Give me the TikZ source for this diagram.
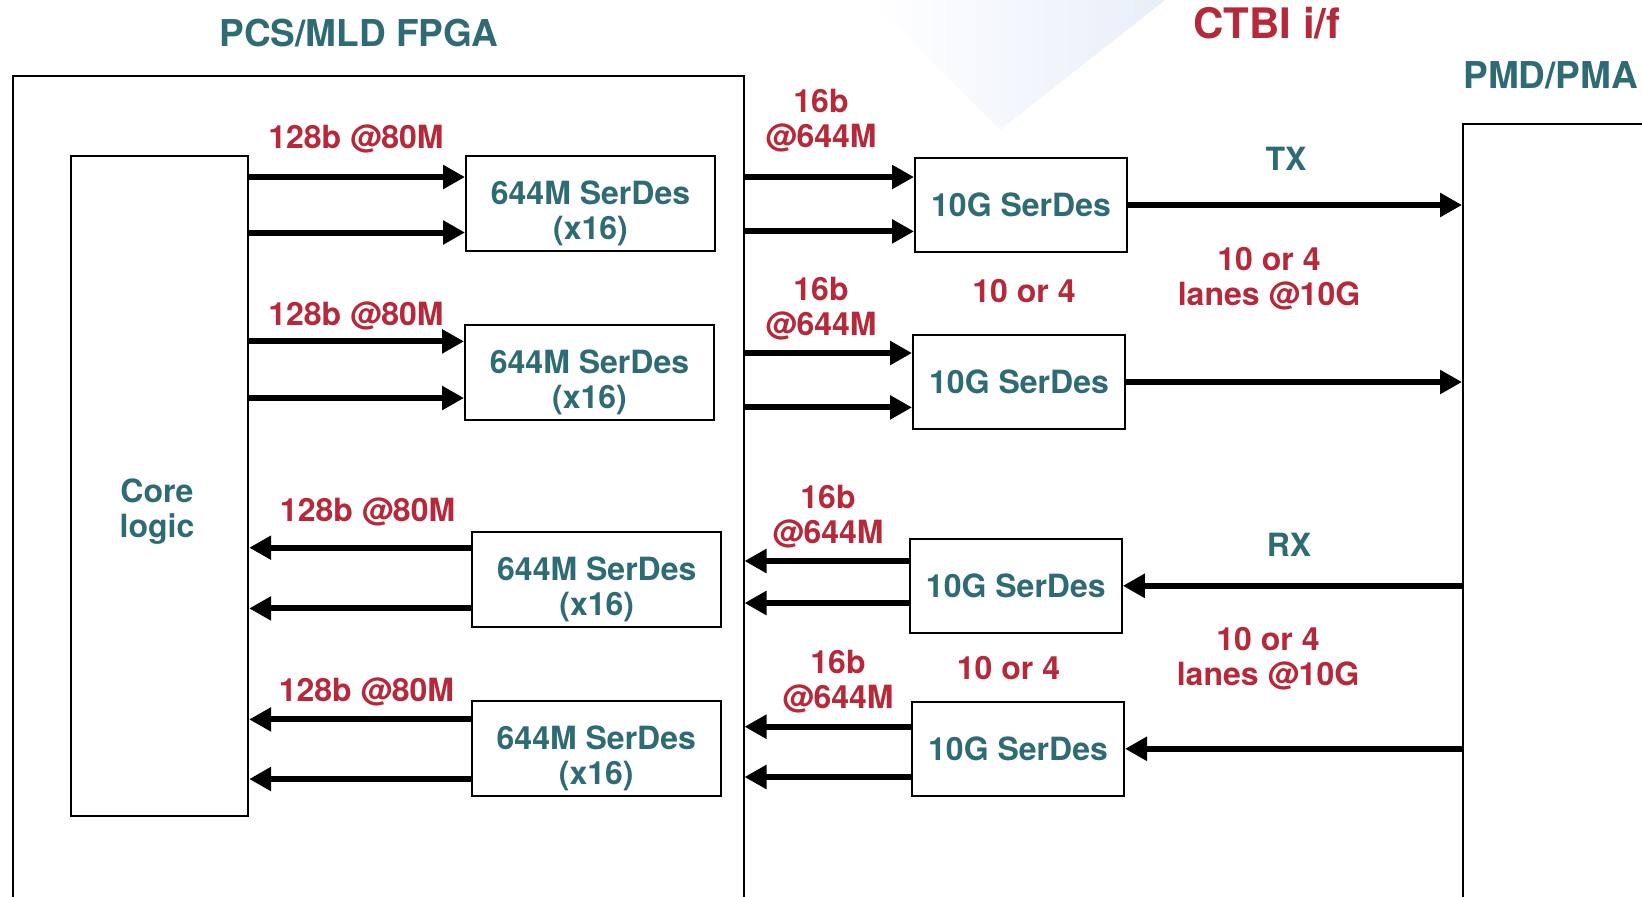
\documentclass[tikz,border=0pt]{standalone}
\usepackage{fontspec}
\setmainfont{TeX Gyre Heros}
\usetikzlibrary{arrows.meta,positioning}
\definecolor{SlateTeal}{HTML}{2F6B75}
\definecolor{BrickRed}{HTML}{B5293A}
\definecolor{HazeBlue}{HTML}{E8EEF9}

\begin{document}
\begin{tikzpicture}[
  x=0.5pt, y=-0.5pt,
  box/.style={draw=black, line width=1pt, fill=white, align=center, text=SlateTeal,
              font=\fontsize{16}{17.5}\selectfont\bfseries, inner sep=0pt},
  slow/.style={box, minimum width=124.5pt, minimum height=47.5pt, text height=36pt, text depth=0pt},
  fast/.style={box, minimum width=106pt, minimum height=47pt},
  rate/.style={align=center, text=BrickRed, font=\fontsize{16}{17.5}\selectfont\bfseries},
  head/.style={text=SlateTeal, font=\fontsize{18.5}{20}\selectfont\bfseries},
  arrow/.style={-{Triangle[length=11pt,width=11.5pt]}, line width=3pt}
]
\useasboundingbox (0,0) rectangle (1642,896);
\clip (0,0) rectangle (1642,896);
\shade[left color=white, right color=HazeBlue] (870,0) -- (1165,0) -- (1000,130) -- cycle;

% outer blocks
\node[box, minimum width=365.5pt, minimum height=421.8pt] (fpga) at (378,498) {};
\node[box, minimum width=98.5pt, minimum height=398.2pt] (pmd) at (1561.5,521.8) {};
\node[box, minimum width=88.5pt, minimum height=330pt] (core) at (159.7,486) {};
\node[box, draw=none, fill=none] (corelbl) at (157,512) {Core\\logic};

\node[head] (fpgatitle) at (359,33.5) {PCS/MLD FPGA};
\node[head, text=BrickRed, font=\fontsize{21}{23}\selectfont\bfseries] (ctbi) at (1267,23) {CTBI i/f};
\node[head, anchor=west, inner sep=0pt] (pmdtitle) at (1463,75) {PMD/PMA};

% serdes
\node[slow] (s1) at (590.5,203.5) {644M SerDes\\(x16)};
\node[slow] (s2) at (589.5,372.3) {644M SerDes\\(x16)};
\node[slow] (s3) at (596.8,579.5) {644M SerDes\\(x16)};
\node[slow] (s4) at (596.3,748.8) {644M SerDes\\(x16)};
\node[fast] (g1) at (1021,205) {10G SerDes};
\node[fast] (g2) at (1019,382) {10G SerDes};
\node[fast] (g3) at (1015.8,585.8) {10G SerDes};
\node[fast] (g4) at (1018,748.8) {10G SerDes};

% links
\foreach \y/\b in {177/s1,232.5/s1,341.4/s2,398/s2}
  \draw[arrow] (core.east |- 0,\y) -- (\b.west |- 0,\y);
\foreach \y/\b in {547.7/s3,608.4/s3,719.4/s4,779/s4}
  \draw[arrow] (\b.west |- 0,\y) -- (core.east |- 0,\y);
\foreach \y/\b in {177/g1,231.4/g1,353/g2,407.4/g2}
  \draw[arrow] (fpga.east |- 0,\y) -- (\b.west |- 0,\y);
\foreach \y/\b in {561/g3,603/g3,726.7/g4,777/g4}
  \draw[arrow] (\b.west |- 0,\y) -- (fpga.east |- 0,\y);
\foreach \b in {g1,g2}
  \draw[arrow] (\b.east) -- (\b.east -| pmd.west);
\foreach \b in {g3,g4}
  \draw[arrow] (\b.east -| pmd.west) -- (\b.east);

% rates
\node[rate] (r1) at (356,139) {128b @80M};
\node[rate] (r2) at (356,316) {128b @80M};
\node[rate] (r3) at (367.6,512) {128b @80M};
\node[rate] (r4) at (366.5,692) {128b @80M};
\node[rate] (w1) at (821,120.5) {16b\\@644M};
\node[rate] (w2) at (821,309) {16b\\@644M};
\node[rate] (w3) at (828,517) {16b\\@644M};
\node[rate] (w4) at (838,682) {16b\\@644M};
\node[rate] (n1) at (1024,291) {10 or 4};
\node[rate] (n2) at (1008.5,668) {10 or 4};
\node[rate] (l1) at (1269,278.4) {10 or 4\\lanes @10G};
\node[rate] (l2) at (1268,658.7) {10 or 4\\lanes @10G};
\node[rate, text=SlateTeal] (tx) at (1286,159) {TX};
\node[rate, text=SlateTeal] (rx) at (1289,544.5) {RX};
\end{tikzpicture}
\end{document}
